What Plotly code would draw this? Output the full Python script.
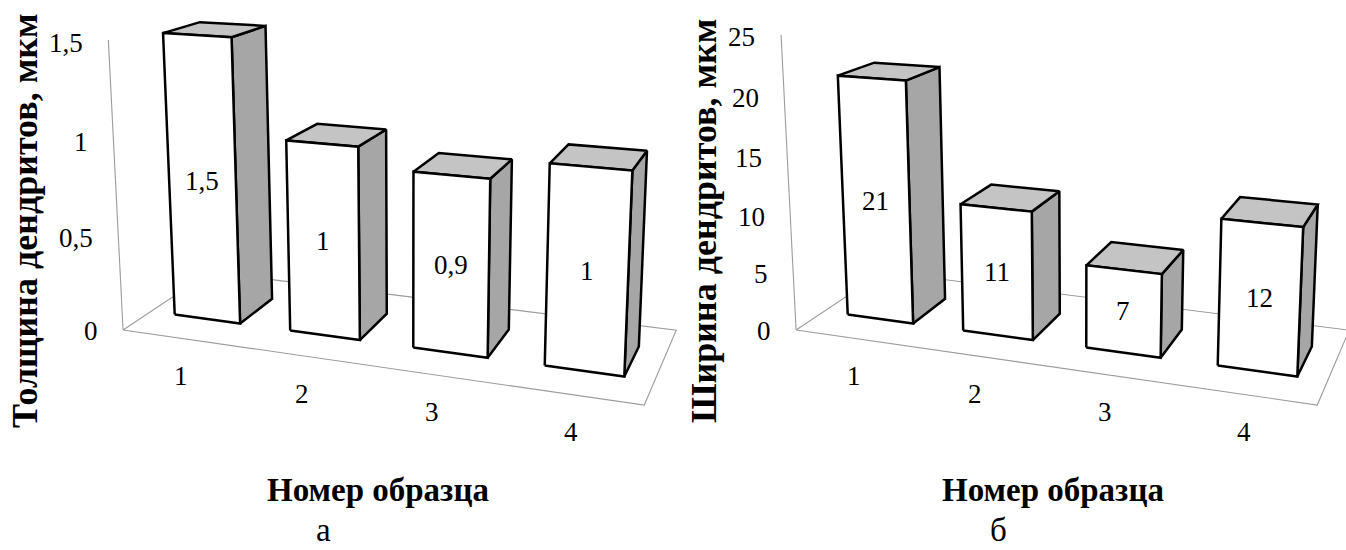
import numpy as np
import plotly.graph_objects as go

# ---------------- data ----------------
samples = ["1", "2", "3", "4"]

thickness = [1.5, 1.0, 0.9, 1.0]                 # толщина дендритов, мкм
thickness_text = ["1,5", "1", "0,9", "1"]
thickness_ticks = [0, 0.5, 1.0, 1.5]
thickness_ticktext = ["0", "0,5", "1", "1,5"]

dendrite_width = [21, 11, 7, 12]                 # ширина дендритов, мкм
dendrite_width_text = ["21", "11", "7", "12"]
width_ticks = [0, 5, 10, 15, 20, 25]
width_ticktext = ["0", "5", "10", "15", "20", "25"]

# ---------------- 3-D column geometry (one category = 1 unit) ----------------
FLOOR_DEPTH = 1.42
BAR_W = 0.574
BAR_FRONT = 0.42
BAR_DEPTH = 0.58

# perspective camera shared by both panels
YAW = np.radians(19.6)
PITCH = np.radians(13.0)
FOCAL = 1338.0
EYE = np.array([5.29, -8.36, 3.85])

cam_right = np.array([np.cos(YAW), np.sin(YAW), 0.0])
cam_fwd = np.array([-np.sin(YAW) * np.cos(PITCH), np.cos(YAW) * np.cos(PITCH), -np.sin(PITCH)])
cam_up = np.cross(cam_right, cam_fwd)


def project(pts, cx, cy):
    w = np.atleast_2d(np.asarray(pts, float)) - EYE
    xc, yc, zc = w @ cam_right, w @ cam_up, w @ cam_fwd
    return cx + FOCAL * xc / zc, cy - FOCAL * yc / zc


FONT = "Liberation Serif, Times New Roman, serif"
EDGE = "black"
FRONT_FILL = "white"
SIDE_FILL = "#a6a6a6"
TOP_FILL = "#c4c4c4"
GRID = "#9c9c9c"

panels = [
    dict(values=thickness, text=thickness_text, ticks=thickness_ticks,
         ticktext=thickness_ticktext, axis_h=2.25, cx=407.0, cy=124.0,
         ytitle="Толщина дендритов, мкм", ytitle_xy=(25, 221),
         xtitle_xy=(378, 490), caption="а", caption_xy=(323, 550)),
    dict(values=dendrite_width, text=dendrite_width_text, ticks=width_ticks,
         ticktext=width_ticktext, axis_h=2.29, cx=1080.0, cy=124.0,
         ytitle="Ширина дендритов, мкм", ytitle_xy=(704, 221),
         xtitle_xy=(1053, 490), caption="б", caption_xy=(998, 550)),
]

fig = go.Figure()
annotations = []


def poly(pts, cx, cy, fill=None, color=EDGE, width=2.5):
    px, py = project(pts, cx, cy)
    px, py = list(px), list(py)
    if fill is not None:
        px.append(px[0])
        py.append(py[0])
    fig.add_trace(go.Scatter(
        x=px, y=py, mode="lines",
        fill="toself" if fill is not None else None,
        fillcolor=fill, line=dict(color=color, width=width),
        hoverinfo="skip", showlegend=False))


for p in panels:
    cx, cy = p["cx"], p["cy"]
    vmax = p["ticks"][-1]
    n = len(p["values"])
    scale = p["axis_h"] / vmax

    # floor outline and value axis
    D = FLOOR_DEPTH
    poly([(0, 0, 0), (n, 0, 0), (n, D, 0), (0, D, 0), (0, 0, 0)], cx, cy, color=GRID, width=1.1)
    poly([(0, 0, 0), (0, 0, p["axis_h"])], cx, cy, color=GRID, width=1.1)

    # columns
    for i, v in enumerate(p["values"]):
        x0 = i + (1 - BAR_W) / 2
        x1 = x0 + BAR_W
        y0, y1 = BAR_FRONT, BAR_FRONT + BAR_DEPTH
        z1 = v * scale
        poly([(x1, y0, 0), (x1, y1, 0), (x1, y1, z1), (x1, y0, z1)], cx, cy, fill=SIDE_FILL)
        poly([(x0, y0, z1), (x1, y0, z1), (x1, y1, z1), (x0, y1, z1)], cx, cy, fill=TOP_FILL)
        poly([(x0, y0, 0), (x1, y0, 0), (x1, y0, z1), (x0, y0, z1)], cx, cy, fill=FRONT_FILL)

        lx, ly = project([(i + 0.5, y0, z1 / 2)], cx, cy)
        annotations.append(dict(x=lx[0], y=ly[0], text=p["text"][i], showarrow=False,
                                font=dict(family=FONT, size=27, color="black")))

        cxl, cyl = project([(i + 0.5, 0, 0)], cx, cy)
        annotations.append(dict(x=cxl[0], y=cyl[0], yshift=-38, text=samples[i], showarrow=False,
                                font=dict(family=FONT, size=27, color="black")))

    # value-axis tick labels
    for t, tt in zip(p["ticks"], p["ticktext"]):
        tx, ty = project([(-0.2, 0, t * scale)], cx, cy)
        annotations.append(dict(x=tx[0], y=ty[0], yshift=-4, xanchor="right", text=tt,
                                showarrow=False, font=dict(family=FONT, size=27, color="black")))

    # titles and caption
    annotations.append(dict(x=p["ytitle_xy"][0], y=p["ytitle_xy"][1], text="<b>%s</b>" % p["ytitle"],
                            textangle=-90, showarrow=False,
                            font=dict(family=FONT, size=36, color="black")))
    annotations.append(dict(x=p["xtitle_xy"][0], y=p["xtitle_xy"][1], text="<b>Номер образца</b>",
                            showarrow=False, font=dict(family=FONT, size=33, color="black")))
    annotations.append(dict(x=p["caption_xy"][0], y=p["caption_xy"][1], yanchor="bottom",
                            text=p["caption"], showarrow=False,
                            font=dict(family=FONT, size=33, color="black")))

fig.update_layout(
    width=1346, height=550, autosize=False,
    margin=dict(l=0, r=0, t=0, b=0),
    paper_bgcolor="white", plot_bgcolor="white",
    xaxis=dict(range=[0, 1346], visible=False, fixedrange=True),
    yaxis=dict(range=[550, 0], visible=False, fixedrange=True),
    annotations=annotations,
    font=dict(family=FONT, color="black"),
)

fig.write_html("out.html")
